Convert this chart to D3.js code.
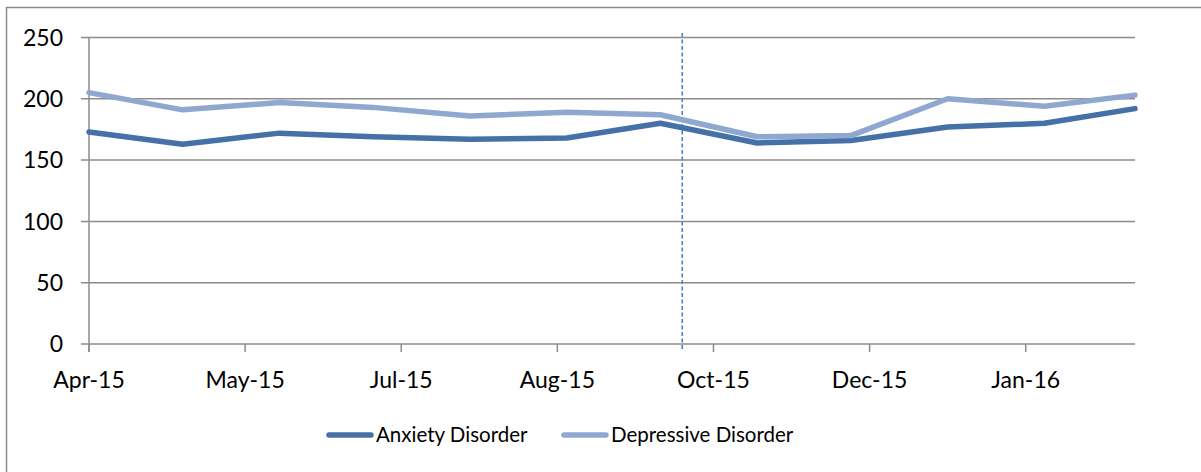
<!DOCTYPE html>
<html>
<head>
<meta charset="utf-8">
<script src="https://cdn.jsdelivr.net/npm/d3@7/dist/d3.min.js"></script>
<style>
  html, body { margin: 0; padding: 0; background: #fff; }
  svg { display: block; }
  text { font-family: Lato, "Open Sans", sans-serif; fill: #000; }
</style>
</head>
<body>
<script>
const months = ["2015-04-01","2015-05-01","2015-06-01","2015-07-01","2015-08-01","2015-09-01",
                "2015-10-01","2015-11-01","2015-12-01","2016-01-01","2016-02-01","2016-03-01"];
const anxiety    = [173, 163, 172, 169, 167, 168, 180, 164, 166, 177, 180, 192];
const depressive = [205, 191, 197, 193, 186, 189, 187, 169, 170, 200, 194, 203];
const seriesNames = ["Anxiety Disorder", "Depressive Disorder"];
const yTicks = [0, 50, 100, 150, 200, 250];
const markerDate = "2015-10-08";
const xTickStepDays = 50;

const W = 1201, H = 472;
const colors = ["#4570a8", "#8fa8cf"];
const gridColor = "#8c8c8c";

const parse = d3.utcParse("%Y-%m-%d");
const dates = months.map(parse);

const svg = d3.select("body").append("svg").attr("width", W).attr("height", H);

// outer chart border
svg.append("rect").attr("x", 6.5).attr("y", 7.5).attr("width", W + 10).attr("height", H + 10)
  .attr("fill", "none").attr("stroke", gridColor).attr("stroke-width", 1.5);

const x = d3.scaleUtc().domain([dates[0], dates[dates.length - 1]]).range([89, 1135]);
const y = d3.scaleLinear().domain([0, 250]).range([344, 37.5]);

// gridlines
svg.append("g").selectAll("line").data(yTicks).join("line")
  .attr("x1", x.range()[0] - 8).attr("x2", x.range()[1])
  .attr("y1", d => y(d)).attr("y2", d => y(d))
  .attr("stroke", gridColor).attr("stroke-width", 1.5);

// y axis line
svg.append("line").attr("x1", 89).attr("x2", 89).attr("y1", y(250)).attr("y2", y(0) + 8)
  .attr("stroke", gridColor).attr("stroke-width", 1.5);

// y labels
svg.append("g").selectAll("text").data(yTicks).join("text")
  .attr("x", 63).attr("y", d => y(d)).attr("dy", "0.36em")
  .attr("text-anchor", "end").attr("font-size", 23).text(d => d);

// x ticks
const xTickDates = [];
for (let t = dates[0]; t <= dates[dates.length - 1]; t = d3.utcDay.offset(t, xTickStepDays)) xTickDates.push(t);
const fmt = d3.utcFormat("%b-%y");
svg.append("g").selectAll("line").data(xTickDates).join("line")
  .attr("x1", d => x(d)).attr("x2", d => x(d)).attr("y1", y(0)).attr("y2", y(0) + 8)
  .attr("stroke", gridColor).attr("stroke-width", 1.5);
svg.append("g").selectAll("text").data(xTickDates).join("text")
  .attr("x", d => x(d)).attr("y", 379.5).attr("dy", "0.36em")
  .attr("text-anchor", "middle").attr("font-size", 23).text(d => fmt(d));

// dashed marker line
const md = parse(markerDate);
svg.append("line").attr("x1", x(md)).attr("x2", x(md)).attr("y1", 33).attr("y2", 351)
  .attr("stroke", "#4f81bd").attr("stroke-width", 1.6).attr("stroke-dasharray", "4,2.5");

// series lines
const line = d3.line().x((d, i) => x(dates[i])).y(d => y(d));
[anxiety, depressive].forEach((s, k) => {
  svg.append("path").datum(s).attr("d", line)
    .attr("fill", "none").attr("stroke", colors[k]).attr("stroke-width", 5.5)
    .attr("stroke-linejoin", "round").attr("stroke-linecap", "round");
});

// legend
const legendX = [329, 564];
seriesNames.forEach((name, k) => {
  const g = svg.append("g").attr("transform", `translate(${legendX[k]},435)`);
  g.append("line").attr("x1", 0).attr("x2", 42).attr("y1", 0).attr("y2", 0)
    .attr("stroke", colors[k]).attr("stroke-width", 5.5).attr("stroke-linecap", "round");
  g.append("text").attr("x", 47).attr("y", 0).attr("dy", "0.36em").attr("font-size", 20.5).text(name);
});
</script>
</body>
</html>
